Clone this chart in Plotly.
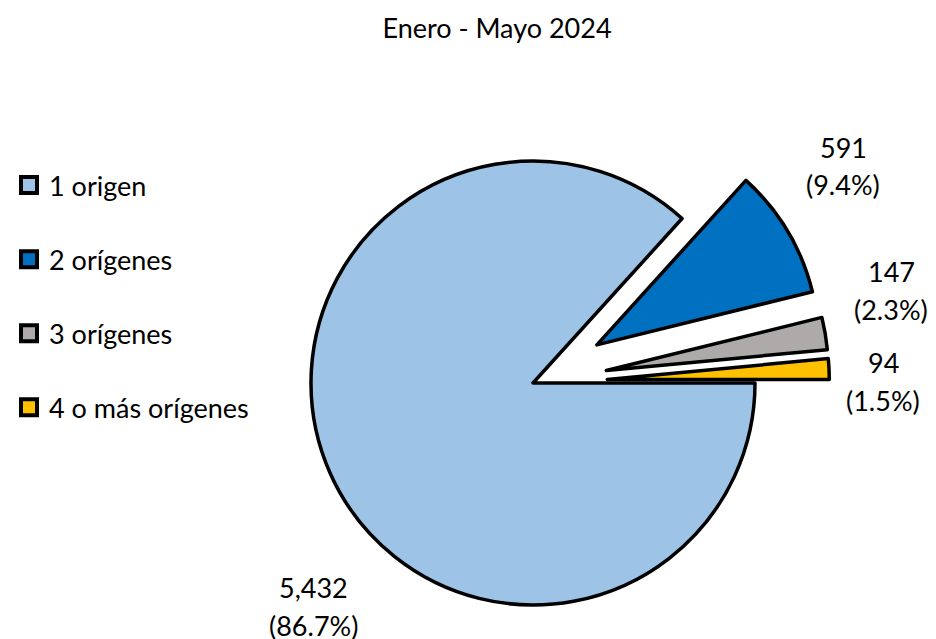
import math
import plotly.graph_objects as go

# ---- data ----
categories = ["1 origen", "2 orígenes", "3 orígenes", "4 o más orígenes"]
values = [5432, 591, 147, 94]
title_text = "Enero - Mayo 2024"

# ---- style ----
colors = ["#9DC3E6", "#0070C0", "#AEAAAA", "#FFC000"]
pulls = [0.0, 0.335, 0.335, 0.335]
FONT = "Lato"
FS = 27
W, H = 936, 639
CX, CY, R = 533, 383, 222          # pie centre / radius in px
LINE_W = 3.5
# label block centres (px) for each category
label_pos = [(313, 606), (843, 166), (891, 290), (883, 381)]
LINE_GAP = 19

total = sum(values)
fig = go.Figure()

cum = 0.0
for k, v in enumerate(values):
    mid = (cum + v / 2.0) / total
    cum += v
    a = math.radians(90 + 360 * mid)
    d = pulls[k] * R
    cx = CX + math.sin(a) * d
    cy = CY - math.cos(a) * d
    fills = [colors[i] if i == k else "rgba(0,0,0,0)" for i in range(len(values))]
    widths = [LINE_W if i == k else 0 for i in range(len(values))]
    fig.add_trace(go.Pie(
        labels=categories, values=values, sort=False,
        rotation=90, direction="clockwise",
        marker=dict(colors=fills, line=dict(color="black", width=widths)),
        textinfo="none", hoverinfo="label+value+percent",
        showlegend=False,
        domain=dict(x=[(cx - R) / W, (cx + R) / W],
                    y=[(H - cy - R) / H, (H - cy + R) / H]),
    ))

# legend entries
for k, name in enumerate(categories):
    fig.add_trace(go.Scatter(
        x=[None], y=[None], mode="markers", name=name,
        legendgroup=name,
        marker=dict(symbol="square", size=16, color=colors[k],
                    line=dict(color="black", width=4)),
    ))

annotations = []
for k, v in enumerate(values):
    px, py = label_pos[k]
    pct = 100.0 * v / total
    for text, off in ((f"{v:,}", -LINE_GAP), (f"({pct:.1f}%)", LINE_GAP)):
        annotations.append(dict(
            x=px / W, y=1 - (py + off) / H, xref="paper", yref="paper",
            text=text, showarrow=False, xanchor="center", yanchor="middle",
            font=dict(family=FONT, size=FS, color="black"),
        ))

fig.update_layout(
    width=W, height=H,
    margin=dict(l=0, r=0, t=0, b=0),
    paper_bgcolor="white", plot_bgcolor="white",
    title=dict(text=title_text, x=497 / W, xanchor="center",
               y=1 - 29 / H, yanchor="middle", yref="container",
               font=dict(family=FONT, size=FS, color="black")),
    xaxis=dict(visible=False), yaxis=dict(visible=False),
    showlegend=True,
    legend=dict(x=9 / W, xanchor="left", y=1 - 161 / H, yanchor="top",
                traceorder="grouped", tracegroupgap=36,
                font=dict(family=FONT, size=FS, color="black"),
                bgcolor="rgba(0,0,0,0)"),
    annotations=annotations,
)

fig.write_html("out.html",
               config={"displayModeBar": False},
               post_script="document.body.style.margin='0';document.body.style.overflow='hidden';")
